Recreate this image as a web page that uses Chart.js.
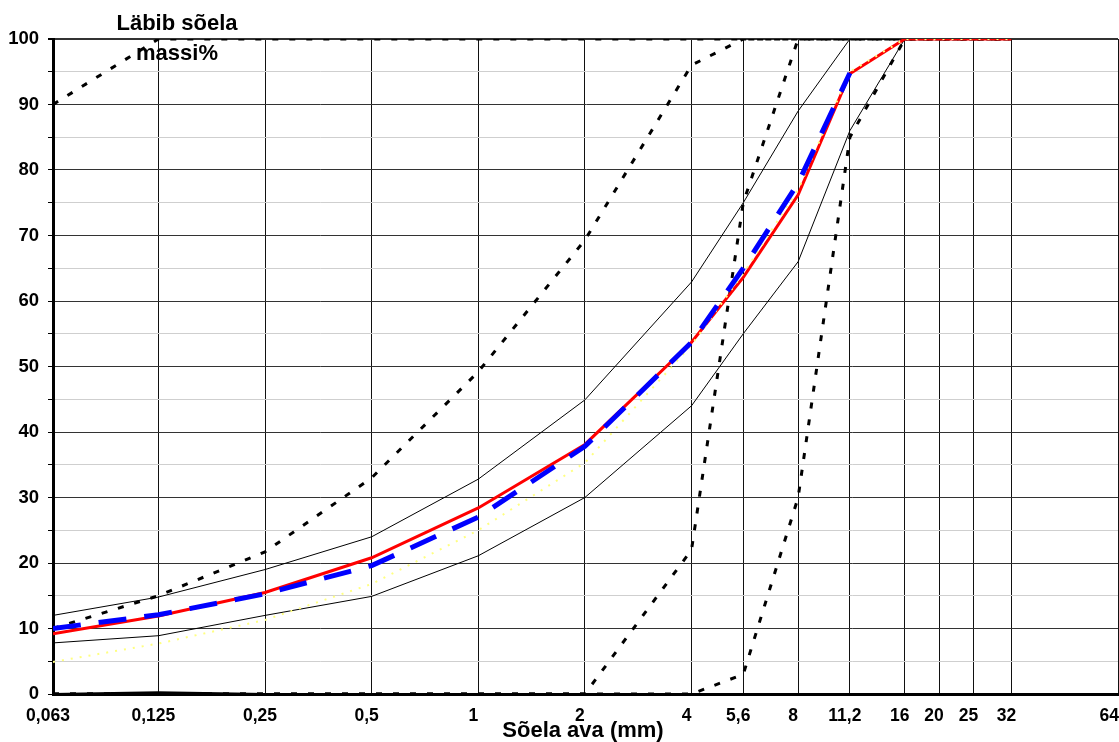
<!DOCTYPE html>
<html>
<head>
<meta charset="utf-8">
<title>Sõelkõver</title>
<script src="https://cdn.jsdelivr.net/npm/chart.js@4.4.1/dist/chart.umd.min.js"></script>
<style>
    html, body { margin: 0; padding: 0; background: #fff; }
    canvas { display: block; }
</style>
</head>
<body>
<canvas id="gradingChart" width="1119" height="742"></canvas>
<script>
// Sieve sizes (mm) that carry data points
const sieves = [0.063, 0.125, 0.25, 0.5, 1, 2, 4, 5.6, 8, 11.2, 16, 20, 25, 32];
// Sieve sizes drawn on the axis and their labels
const axisSieves = [0.063, 0.125, 0.25, 0.5, 1, 2, 4, 5.6, 8, 11.2, 16, 20, 25, 32, 64];
const axisLabels = ['0,063', '0,125', '0,25', '0,5', '1', '2', '4', '5,6', '8', '11,2', '16', '20', '25', '32', '64'];

// Passing percentages, one value per sieve (null = no point)
const measured   = [9.2, 11.9, 15.5, 20.8, 28.4, 38.1, 53.7, 63.6, 76.2, 94.7, 100, 100, 100, 100];
const average    = [10.0, 12.1, 15.3, 19.6, 27.0, 37.8, 53.7, 65.0, 78.0, 94.8, null, null, null, null];
const paleCurve  = [4.9, 7.7, 11.3, 16.8, 25.0, 35.3, 53.3, 64.2, 77.0, 95.0, 100, 100, 100, 100];
const upperLimit = [12.0, 14.8, 19.0, 24.0, 32.8, 44.9, 62.9, 75.0, 89.0, 100, 100, null, null, null];
const lowerLimit = [7.8, 8.9, 12.0, 14.9, 21.1, 30.0, 44.0, 55.0, 66.0, 86.0, 100, null, null, null];
const fraction0_4   = [10.0, 15.0, 21.7, 33.0, 49.2, 69.3, 96.0, 100, 100, 100, 100, 100, 100, 100];
const fraction0_0   = [90.0, 100, 100, 100, 100, 100, 100, 100, 100, 100, 100, 100, 100, 100];
const fraction2_8   = [0, 0, 0, 0, 0, 0, 22.0, 75.0, 100, 100, 100, 100, 100, 100];
const fraction4_16  = [0, 0, 0, 0, 0, 0, 0, 3.0, 30.0, 85.0, 100, 100, 100, 100];
const bottomTrace   = [0, 0.25, 0, 0, null, null, null, null, null, null, null, null, null, null];

const TEXT_FONT = '"Liberation Sans", Arial, sans-serif';

// Turn a value list into {x, y} points on the sieve sizes
function toPoints(values) {
    return sieves.map((s, i) => ({ x: s, y: values[i] }));
}

function lineSet(label, values, color, width, dash, order) {
    return {
        label: label,
        data: toPoints(values),
        borderColor: color,
        borderWidth: width,
        borderDash: dash,
        borderCapStyle: 'butt',
        pointRadius: 0,
        tension: 0,
        fill: false,
        order: order
    };
}

// Draw axis labels and titles
const textPlugin = {
    id: 'gradingText',
    afterDraw(chart) {
        const { ctx, chartArea, scales } = chart;
        const xScale = scales.x;
        ctx.save();
        ctx.fillStyle = '#000';
        ctx.textAlign = 'center';
        ctx.textBaseline = 'alphabetic';

        ctx.font = 'bold 17.5px ' + TEXT_FONT;
        axisSieves.forEach((v, i) => {
            const w = ctx.measureText(axisLabels[i]).width;
            let px = xScale.getPixelForValue(v) - 5;
            px = Math.min(px, chartArea.right - w / 2 + 1);
            ctx.fillText(axisLabels[i], px, 721);
        });

        ctx.font = 'bold 22px ' + TEXT_FONT;
        ctx.fillText('Sõela ava (mm)', 583, 737);
        ctx.fillText('Läbib sõela', 177, 30);
        ctx.fillText('massi%', 177, 60);
        ctx.restore();
    }
};

document.addEventListener('DOMContentLoaded', () => {
    const ctx = document.getElementById('gradingChart');

    new Chart(ctx, {
        type: 'line',
        data: {
            datasets: [
                lineSet('Keskmine', average, '#0000FF', 5, [28, 18], 1),
                lineSet('Kollane', paleCurve, '#FFFF80', 2, [2, 7], 2),
                lineSet('Mõõdetud', measured, '#FF0000', 3, [], 3),
                lineSet('0/4', fraction0_4, '#000', 3, [6, 11], 4),
                lineSet('0/0', fraction0_0, '#000', 3, [6, 11], 5),
                lineSet('2/8', fraction2_8, '#000', 3, [6, 11], 6),
                lineSet('4/16', fraction4_16, '#000', 3, [6, 11], 7),
                lineSet('Ülemine piir', upperLimit, '#000', 1, [], 8),
                lineSet('Alumine piir', lowerLimit, '#000', 1, [], 9),
                lineSet('Põhi', bottomTrace, '#000', 2, [], 10)
            ]
        },
        options: {
            responsive: false,
            animation: false,
            devicePixelRatio: 1,
            layout: { padding: { top: 39, right: 1, left: 0, bottom: 0 } },
            plugins: {
                legend: { display: false },
                title: { display: false },
                tooltip: { enabled: false }
            },
            scales: {
                x: {
                    type: 'logarithmic',
                    min: 0.063,
                    max: 64,
                    afterBuildTicks: (scale) => {
                        scale.ticks = axisSieves.map(v => ({ value: v }));
                    },
                    afterFit: (scale) => { scale.height = 48; },
                    ticks: { display: false },
                    grid: {
                        color: '#111',
                        lineWidth: 1,
                        drawTicks: false
                    },
                    border: { color: '#000', width: 3 }
                },
                y: {
                    min: 0,
                    max: 100,
                    afterFit: (scale) => { scale.width = 53; },
                    ticks: {
                        stepSize: 5,
                        padding: 9,
                        color: '#000',
                        font: { family: TEXT_FONT, size: 18.5, weight: 'bold' },
                        callback: (value) => (value % 10 === 0 ? value : '')
                    },
                    grid: {
                        color: (c) => (c.tick.value % 10 === 0 ? '#333' : '#cfcfcf'),
                        lineWidth: (c) => (c.tick.value === 100 ? 2 : 1),
                        tickColor: '#000',
                        tickLength: 5
                    },
                    border: { color: '#000', width: 3 }
                }
            }
        },
        plugins: [textPlugin]
    });
});
</script>
</body>
</html>
